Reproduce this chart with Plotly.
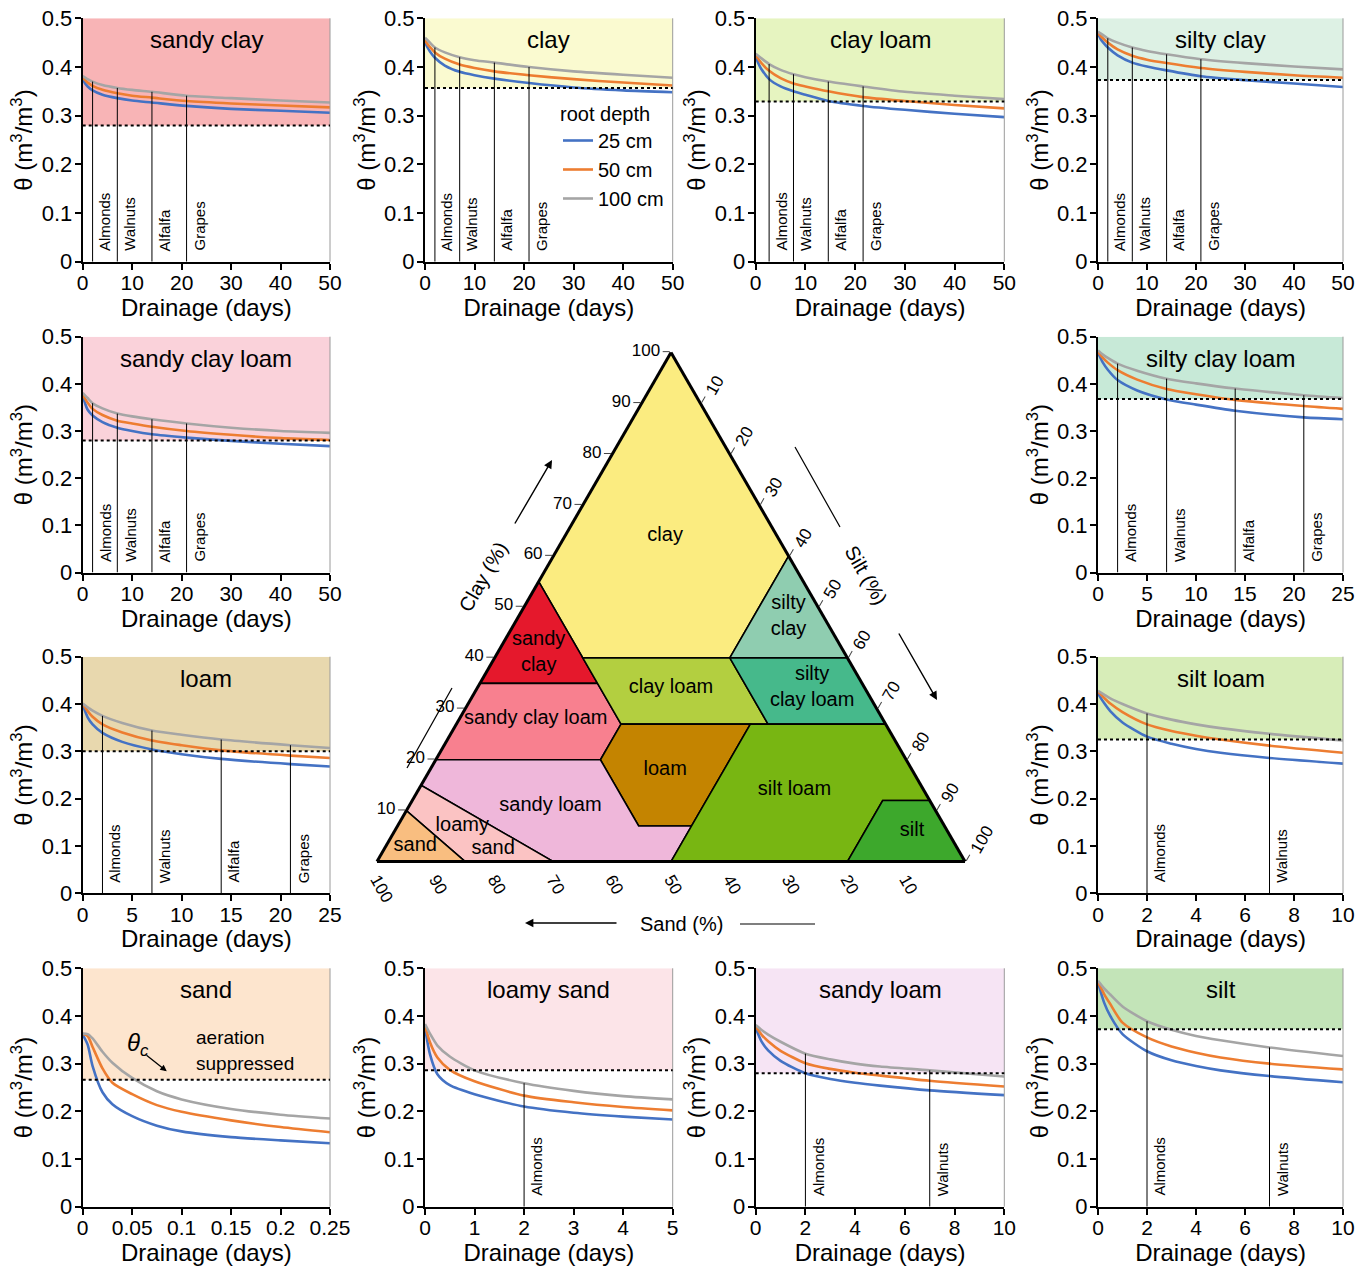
import numpy as np
import plotly.graph_objects as go

W, H = 1370, 1266
FONT = "Liberation Sans, Arial, Helvetica, sans-serif"

# ---------------- data ----------------
crop_names = ["Almonds", "Walnuts", "Alfalfa", "Grapes"]
depth_labels = ["25 cm", "50 cm", "100 cm"]
depth_colors = ["#4472C4", "#ED7D31", "#A5A5A5"]

sandy_clay_days = [0, 0.5, 1, 2, 4, 7, 10, 14, 21, 30, 40, 50]
sandy_clay_25cm = [0.376, 0.366, 0.360, 0.352, 0.343, 0.336, 0.331, 0.327, 0.320, 0.314, 0.310, 0.306]
sandy_clay_50cm = [0.379, 0.373, 0.368, 0.361, 0.353, 0.346, 0.341, 0.337, 0.330, 0.325, 0.321, 0.317]
sandy_clay_100cm = [0.381, 0.378, 0.375, 0.370, 0.363, 0.357, 0.353, 0.349, 0.341, 0.336, 0.331, 0.327]
sandy_clay_theta_c = 0.280
sandy_clay_crop_days = [2, 7, 14, 21]

clay_days = [0, 0.5, 1, 2, 4, 7, 10, 14, 21, 30, 40, 50]
clay_25cm = [0.452, 0.440, 0.432, 0.419, 0.403, 0.390, 0.383, 0.376, 0.367, 0.358, 0.352, 0.348]
clay_50cm = [0.455, 0.447, 0.441, 0.430, 0.417, 0.405, 0.398, 0.391, 0.383, 0.375, 0.368, 0.362]
clay_100cm = [0.460, 0.455, 0.450, 0.440, 0.430, 0.420, 0.414, 0.409, 0.400, 0.391, 0.384, 0.378]
clay_theta_c = 0.357
clay_crop_days = [2, 7, 14, 21]

clay_loam_days = [0, 0.5, 1, 2.7, 5, 7.6, 10, 14.6, 21.6, 30, 40, 50]
clay_loam_25cm = [0.422, 0.408, 0.398, 0.375, 0.360, 0.350, 0.343, 0.330, 0.320, 0.312, 0.304, 0.297]
clay_loam_50cm = [0.425, 0.417, 0.410, 0.392, 0.377, 0.366, 0.360, 0.350, 0.338, 0.330, 0.322, 0.315]
clay_loam_100cm = [0.427, 0.423, 0.419, 0.406, 0.394, 0.385, 0.379, 0.370, 0.360, 0.349, 0.341, 0.334]
clay_loam_theta_c = 0.329
clay_loam_crop_days = [2.7, 7.6, 14.6, 21.6]

silty_clay_days = [0, 0.5, 1, 2, 4, 7, 10, 14, 21, 30, 40, 50]
silty_clay_25cm = [0.468, 0.458, 0.451, 0.440, 0.424, 0.409, 0.401, 0.393, 0.381, 0.373, 0.366, 0.359]
silty_clay_50cm = [0.470, 0.464, 0.459, 0.450, 0.436, 0.423, 0.415, 0.408, 0.398, 0.390, 0.383, 0.378]
silty_clay_100cm = [0.473, 0.469, 0.466, 0.459, 0.450, 0.440, 0.433, 0.426, 0.416, 0.408, 0.401, 0.395]
silty_clay_theta_c = 0.373
silty_clay_crop_days = [2, 7, 14, 21]

sandy_clay_loam_days = [0, 0.5, 1, 2, 4, 7, 10, 14, 21, 30, 40, 50]
sandy_clay_loam_25cm = [0.375, 0.358, 0.345, 0.333, 0.319, 0.307, 0.300, 0.293, 0.286, 0.279, 0.273, 0.268]
sandy_clay_loam_50cm = [0.378, 0.368, 0.360, 0.347, 0.334, 0.322, 0.316, 0.309, 0.300, 0.292, 0.285, 0.281]
sandy_clay_loam_100cm = [0.381, 0.375, 0.370, 0.359, 0.348, 0.337, 0.331, 0.325, 0.316, 0.307, 0.300, 0.296]
sandy_clay_loam_theta_c = 0.280
sandy_clay_loam_crop_days = [2, 7, 14, 21]

silty_clay_loam_days = [0, 0.5, 1, 2, 4, 7, 10, 14, 21, 25]
silty_clay_loam_25cm = [0.466, 0.445, 0.430, 0.408, 0.386, 0.367, 0.356, 0.343, 0.329, 0.325]
silty_clay_loam_50cm = [0.468, 0.455, 0.445, 0.429, 0.409, 0.389, 0.378, 0.366, 0.353, 0.347]
silty_clay_loam_100cm = [0.471, 0.462, 0.455, 0.443, 0.428, 0.411, 0.401, 0.390, 0.376, 0.370]
silty_clay_loam_theta_c = 0.368
silty_clay_loam_crop_days = [2, 7, 14, 21]

loam_days = [0, 0.5, 1, 2, 4, 7, 10, 14, 21, 25]
loam_25cm = [0.398, 0.372, 0.357, 0.339, 0.320, 0.304, 0.294, 0.284, 0.273, 0.268]
loam_50cm = [0.400, 0.385, 0.373, 0.357, 0.340, 0.323, 0.313, 0.302, 0.291, 0.286]
loam_100cm = [0.401, 0.393, 0.386, 0.375, 0.360, 0.344, 0.335, 0.325, 0.313, 0.307]
loam_theta_c = 0.300
loam_crop_days = [2, 7, 14, 21]

silt_loam_days = [0, 0.25, 0.5, 1, 2, 3, 4, 5, 7, 10]
silt_loam_25cm = [0.422, 0.402, 0.385, 0.361, 0.331, 0.316, 0.305, 0.297, 0.286, 0.274]
silt_loam_50cm = [0.426, 0.413, 0.401, 0.383, 0.357, 0.343, 0.333, 0.325, 0.312, 0.297]
silt_loam_100cm = [0.428, 0.420, 0.412, 0.400, 0.380, 0.367, 0.357, 0.349, 0.337, 0.323]
silt_loam_theta_c = 0.325
silt_loam_crop_days = [2, 7]

sand_days = [0, 0.005, 0.01, 0.02, 0.03, 0.05, 0.075, 0.1, 0.15, 0.2, 0.25]
sand_25cm = [0.361, 0.340, 0.295, 0.240, 0.215, 0.190, 0.170, 0.158, 0.146, 0.139, 0.133]
sand_50cm = [0.362, 0.358, 0.335, 0.290, 0.260, 0.236, 0.213, 0.199, 0.181, 0.167, 0.156]
sand_100cm = [0.363, 0.362, 0.353, 0.325, 0.302, 0.270, 0.242, 0.225, 0.205, 0.193, 0.185]
sand_theta_c = 0.266
sand_crop_days = []

loamy_sand_days = [0, 0.1, 0.25, 0.5, 1, 2, 3, 4, 5]
loamy_sand_25cm = [0.376, 0.320, 0.278, 0.255, 0.236, 0.210, 0.197, 0.189, 0.183]
loamy_sand_50cm = [0.380, 0.345, 0.313, 0.287, 0.263, 0.233, 0.219, 0.209, 0.202]
loamy_sand_100cm = [0.383, 0.363, 0.338, 0.315, 0.286, 0.259, 0.243, 0.232, 0.225]
loamy_sand_theta_c = 0.286
loamy_sand_crop_days = [2]

sandy_loam_days = [0, 0.25, 0.5, 1, 2, 3, 4, 5, 7, 10]
sandy_loam_25cm = [0.375, 0.345, 0.328, 0.306, 0.280, 0.268, 0.260, 0.254, 0.244, 0.234]
sandy_loam_50cm = [0.378, 0.360, 0.347, 0.327, 0.301, 0.289, 0.281, 0.275, 0.264, 0.252]
sandy_loam_100cm = [0.381, 0.370, 0.361, 0.346, 0.321, 0.309, 0.300, 0.294, 0.286, 0.273]
sandy_loam_theta_c = 0.280
sandy_loam_crop_days = [2, 7]

silt_days = [0, 0.25, 0.5, 1, 2, 3, 4, 5, 7, 10]
silt_25cm = [0.470, 0.428, 0.400, 0.362, 0.326, 0.307, 0.295, 0.286, 0.274, 0.261]
silt_50cm = [0.472, 0.446, 0.425, 0.386, 0.355, 0.336, 0.323, 0.313, 0.300, 0.288]
silt_100cm = [0.474, 0.458, 0.445, 0.420, 0.389, 0.371, 0.358, 0.349, 0.334, 0.316]
silt_theta_c = 0.372
silt_crop_days = [2, 7]

# USDA texture classes: vertices as (sand, silt, clay) in %
tri_sand = [(100, 0, 0), (85, 15, 0), (90, 0, 10)]
tri_loamy_sand = [(85, 15, 0), (70, 30, 0), (85, 0, 15), (90, 0, 10)]
tri_sandy_loam = [(70, 30, 0), (50, 50, 0), (43, 50, 7), (52, 41, 7), (52, 28, 20), (80, 0, 20), (85, 0, 15)]
tri_loam = [(52, 41, 7), (43, 50, 7), (23, 50, 27), (45, 28, 27), (52, 28, 20)]
tri_silt_loam = [(50, 50, 0), (20, 80, 0), (8, 80, 12), (0, 88, 12), (0, 73, 27), (23, 50, 27), (43, 50, 7)]
tri_silt = [(20, 80, 0), (0, 100, 0), (0, 88, 12), (8, 80, 12)]
tri_sandy_clay_loam = [(80, 0, 20), (52, 28, 20), (45, 28, 27), (45, 20, 35), (65, 0, 35)]
tri_clay_loam = [(45, 28, 27), (20, 53, 27), (20, 40, 40), (45, 15, 40)]
tri_silty_clay_loam = [(20, 53, 27), (0, 73, 27), (0, 60, 40), (20, 40, 40)]
tri_sandy_clay = [(65, 0, 35), (45, 20, 35), (45, 0, 55)]
tri_silty_clay = [(20, 40, 40), (0, 60, 40), (0, 40, 60)]
tri_clay = [(45, 0, 55), (45, 15, 40), (20, 40, 40), (0, 40, 60), (0, 0, 100)]

# label anchor points (sand, silt, clay)
tri_label_text = ["clay", "sandy<br>clay", "silty<br>clay", "clay loam", "silty<br>clay loam",
                  "sandy clay loam", "loam", "silt loam", "sandy loam", "silt", "loamy", "sand", "sand"]
tri_label_pos = [(19, 17, 64), (52, 7, 41), (6, 46, 48), (33, 33, 34), (9, 57, 34),
                 (59, 13, 28), (42, 40, 18), (22, 64, 14), (65, 24, 11), (6, 88, 6),
                 (82, 11, 7), (79, 18.5, 2.5), (92, 5, 3)]
tri_ticks = [10, 20, 30, 40, 50, 60, 70, 80, 90, 100]

# ---------------- layout helpers ----------------
cols_px = [(82.7, 330.0), (425.0, 672.7), (755.7, 1004.3), (1098.0, 1343.0)]
rows_px = [(18.3, 261.7), (336.7, 572.5), (656.7, 893.3), (968.3, 1206.7)]

panels = [
    ("sandy clay", sandy_clay_days, sandy_clay_25cm, sandy_clay_50cm, sandy_clay_100cm,
     sandy_clay_theta_c, sandy_clay_crop_days, "#F8B4B6", 50, 10, 0, 0),
    ("clay", clay_days, clay_25cm, clay_50cm, clay_100cm,
     clay_theta_c, clay_crop_days, "#FAFAD0", 50, 10, 1, 0),
    ("clay loam", clay_loam_days, clay_loam_25cm, clay_loam_50cm, clay_loam_100cm,
     clay_loam_theta_c, clay_loam_crop_days, "#E6F4C0", 50, 10, 2, 0),
    ("silty clay", silty_clay_days, silty_clay_25cm, silty_clay_50cm, silty_clay_100cm,
     silty_clay_theta_c, silty_clay_crop_days, "#DDF1E4", 50, 10, 3, 0),
    ("sandy clay loam", sandy_clay_loam_days, sandy_clay_loam_25cm, sandy_clay_loam_50cm, sandy_clay_loam_100cm,
     sandy_clay_loam_theta_c, sandy_clay_loam_crop_days, "#FAD2DA", 50, 10, 0, 1),
    ("silty clay loam", silty_clay_loam_days, silty_clay_loam_25cm, silty_clay_loam_50cm, silty_clay_loam_100cm,
     silty_clay_loam_theta_c, silty_clay_loam_crop_days, "#C7E9D7", 25, 5, 3, 1),
    ("loam", loam_days, loam_25cm, loam_50cm, loam_100cm,
     loam_theta_c, loam_crop_days, "#E8D8AE", 25, 5, 0, 2),
    ("silt loam", silt_loam_days, silt_loam_25cm, silt_loam_50cm, silt_loam_100cm,
     silt_loam_theta_c, silt_loam_crop_days, "#D7EDB8", 10, 2, 3, 2),
    ("sand", sand_days, sand_25cm, sand_50cm, sand_100cm,
     sand_theta_c, sand_crop_days, "#FDE5CE", 0.25, 0.05, 0, 3),
    ("loamy sand", loamy_sand_days, loamy_sand_25cm, loamy_sand_50cm, loamy_sand_100cm,
     loamy_sand_theta_c, loamy_sand_crop_days, "#FCE4E8", 5, 1, 1, 3),
    ("sandy loam", sandy_loam_days, sandy_loam_25cm, sandy_loam_50cm, sandy_loam_100cm,
     sandy_loam_theta_c, sandy_loam_crop_days, "#F6E4F4", 10, 2, 2, 3),
    ("silt", silt_days, silt_25cm, silt_50cm, silt_100cm,
     silt_theta_c, silt_crop_days, "#C3E4B8", 10, 2, 3, 3),
]

fig = go.Figure()
shapes = []
annotations = []
layout_axes = {}

for i, (name, days, s25, s50, s100, thc, cdays, light, xmax, dtick, ci, ri) in enumerate(panels, start=1):
    xid = "x" if i == 1 else f"x{i}"
    yid = "y" if i == 1 else f"y{i}"
    xkey = "xaxis" if i == 1 else f"xaxis{i}"
    ykey = "yaxis" if i == 1 else f"yaxis{i}"
    x0p, x1p = cols_px[ci]
    y0p, y1p = rows_px[ri]
    layout_axes[xkey] = dict(
        domain=[x0p / W, x1p / W], range=[0, xmax], dtick=dtick, tick0=0,
        anchor=yid, showline=True, linecolor="black", linewidth=2,
        ticks="outside", ticklen=6, tickwidth=1.5, tickcolor="black", ticklabelstandoff=-5,
        tickfont=dict(size=21, color="black"), showgrid=False, zeroline=False,
        title=dict(text="Drainage (days)", font=dict(size=24, color="black"), standoff=2),
        automargin=False, fixedrange=True,
    )
    layout_axes[ykey] = dict(
        domain=[1 - y1p / H, 1 - y0p / H], range=[0, 0.5], dtick=0.1, tick0=0,
        anchor=xid, showline=True, linecolor="black", linewidth=2,
        ticks="outside", ticklen=6, tickwidth=1.5, tickcolor="black", ticklabelstandoff=-2,
        tickfont=dict(size=22, color="black"), showgrid=False, zeroline=False,
        title=dict(text="θ (m<sup>3</sup>/m<sup>3</sup>)", font=dict(size=24, color="black"), standoff=2),
        automargin=False, fixedrange=True,
    )
    # aeration-suppressed shading above theta_c
    shapes.append(dict(type="rect", xref=f"{xid} domain", yref=yid, x0=0, x1=1, y0=thc, y1=0.5,
                       fillcolor=light, line=dict(width=0), layer="below"))
    # right border
    shapes.append(dict(type="line", xref=f"{xid} domain", yref=f"{yid} domain", x0=1, x1=1, y0=0, y1=1,
                       line=dict(color="#9a9a9a", width=1)))
    # curves
    for lab, col, ys in zip(depth_labels, depth_colors, [s25, s50, s100]):
        fig.add_trace(go.Scatter(
            x=days, y=ys, mode="lines", name=lab,
            line=dict(color=col, width=2.6, shape="spline", smoothing=0.7),
            xaxis=xid, yaxis=yid, showlegend=(name == "clay"), hoverinfo="skip",
        ))
    # theta_c dotted line
    shapes.append(dict(type="line", xref=f"{xid} domain", yref=yid, x0=0, x1=1, y0=thc, y1=thc,
                       line=dict(color="black", width=2, dash="dot")))
    # crop lines
    for cname, cd in zip(crop_names, cdays):
        top = float(np.interp(cd, days, s100))
        fig.add_trace(go.Scatter(x=[cd, cd], y=[0, top], mode="lines",
                                 line=dict(color="black", width=1), xaxis=xid, yaxis=yid,
                                 showlegend=False, hoverinfo="skip"))
        annotations.append(dict(x=cd, y=0.018, xref=xid, yref=yid, text=cname, showarrow=False,
                                textangle=-90, xanchor="left", yanchor="bottom", xshift=2,
                                font=dict(size=15, color="black")))
    # panel title
    annotations.append(dict(x=0.5, y=1, xref=f"{xid} domain", yref=f"{yid} domain", text=name,
                            showarrow=False, xanchor="center", yanchor="top", yshift=-6,
                            font=dict(size=24, color="black")))
    if name == "sand":
        annotations.append(dict(x=0.056, y=0.34, xref=xid, yref=yid,
                                text="<i>θ</i><sub><i>c</i></sub>", showarrow=False,
                                xanchor="center", yanchor="middle",
                                font=dict(size=24, color="black")))
        annotations.append(dict(x=0.085, y=0.284, xref=xid, yref=yid, ax=0.063, ay=0.320,
                                axref=xid, ayref=yid, text="", showarrow=True, arrowhead=2,
                                arrowsize=1, arrowwidth=1.3, arrowcolor="black"))
        annotations.append(dict(x=0.113, y=0.355, xref=xid, yref=yid, text="aeration",
                                showarrow=False, xanchor="left", yanchor="middle",
                                font=dict(size=19, color="black")))
        annotations.append(dict(x=0.113, y=0.301, xref=xid, yref=yid, text="suppressed",
                                showarrow=False, xanchor="left", yanchor="middle",
                                font=dict(size=19, color="black")))

# ---------------- ternary soil texture triangle ----------------
tri_regions = [
    ("clay", tri_clay, "#FBEC80"),
    ("sandy clay", tri_sandy_clay, "#E5182C"),
    ("silty clay", tri_silty_clay, "#8FCDB0"),
    ("sandy clay loam", tri_sandy_clay_loam, "#F8808F"),
    ("clay loam", tri_clay_loam, "#B3CF40"),
    ("silty clay loam", tri_silty_clay_loam, "#46B98B"),
    ("loam", tri_loam, "#C48400"),
    ("sandy loam", tri_sandy_loam, "#EFB7DA"),
    ("loamy sand", tri_loamy_sand, "#FBC3C3"),
    ("sand", tri_sand, "#F9BE80"),
    ("silt loam", tri_silt_loam, "#78B612"),
    ("silt", tri_silt, "#3DA82C"),
]
for rname, verts, col in tri_regions:
    pts = list(verts) + [verts[0]]
    fig.add_trace(go.Scatterternary(
        b=[p[0] for p in pts], c=[p[1] for p in pts], a=[p[2] for p in pts],
        mode="lines", fill="toself", fillcolor=col,
        line=dict(color="black", width=1.6), showlegend=False, hoverinfo="skip", subplot="ternary",
    ))
fig.add_trace(go.Scatterternary(
    b=[p[0] for p in tri_label_pos], c=[p[1] for p in tri_label_pos], a=[p[2] for p in tri_label_pos],
    mode="text", text=tri_label_text, textfont=dict(size=20, color="black"),
    showlegend=False, hoverinfo="skip", subplot="ternary",
))

tern_axis = dict(
    tickvals=tri_ticks, ticks="outside", ticklen=7, tickwidth=1, tickcolor="#444",
    tickfont=dict(size=17, color="black"), showgrid=True,
    gridcolor="rgba(60,60,60,0.75)", gridwidth=0.8, linecolor="black", linewidth=3,
    layer="above traces", min=0, title=dict(text=""),
)
ternary = dict(
    sum=100,
    domain=dict(x=[377 / W, 965 / W], y=[1 - 862 / H, 1 - 352 / H]),
    bgcolor="white",
    aaxis=dict(tern_axis),
    baxis=dict(tern_axis, tickangle=60, ticks=""),
    caxis=dict(tern_axis, tickangle=-60),
)


def px(xp, yp):
    return xp / W, 1 - yp / H


# axis titles of triangle
for txt, (xp, yp), ang in [("Clay (%)", (483, 577), -60), ("Silt (%)", (866, 575), 60), ("Sand (%)", (681, 924), 0)]:
    xx, yy = px(xp, yp)
    annotations.append(dict(x=xx, y=yy, xref="paper", yref="paper", text=txt, showarrow=False,
                            xanchor="center", yanchor="middle",
                            textangle=ang, font=dict(size=20, color="black")))
# arrows (tail -> head), pixel offsets for the tail
for (tx, ty), (hx, hy) in [((514, 525), (552, 460)), ((898, 632), (937, 700)), ((618, 923), (525, 923))]:
    hx_, hy_ = px(hx, hy)
    annotations.append(dict(x=hx_, y=hy_, ax=tx - hx, ay=ty - hy, xref="paper", yref="paper",
                            axref="pixel", ayref="pixel", text="", showarrow=True, arrowhead=2,
                            arrowsize=1.2, arrowwidth=1.4, arrowcolor="black"))
# plain lines
for (xa, ya), (xb, yb) in [((407, 768), (452, 688)), ((795, 447), (840, 527)), ((740, 924), (815, 924))]:
    p0 = px(xa, ya)
    p1 = px(xb, yb)
    shapes.append(dict(type="line", xref="paper", yref="paper", x0=p0[0], y0=p0[1], x1=p1[0], y1=p1[1],
                       line=dict(color="black", width=1.2)))

fig.update_layout(
    width=W, height=H, margin=dict(l=0, r=0, t=0, b=0),
    paper_bgcolor="white", plot_bgcolor="white",
    font=dict(family=FONT, color="black"),
    shapes=shapes, annotations=annotations, ternary=ternary,
    legend=dict(x=558 / W, y=1 - 95 / H, xanchor="left", yanchor="top",
                bgcolor="rgba(0,0,0,0)", font=dict(size=20, color="black"),
                title=dict(text="root depth", font=dict(size=20, color="black")),
                itemwidth=30, tracegroupgap=0),
    **layout_axes,
)

fig.write_html("out.html", config={"displayModeBar": False},
               post_script="document.body.style.margin='0px';document.body.style.padding='0px';")
